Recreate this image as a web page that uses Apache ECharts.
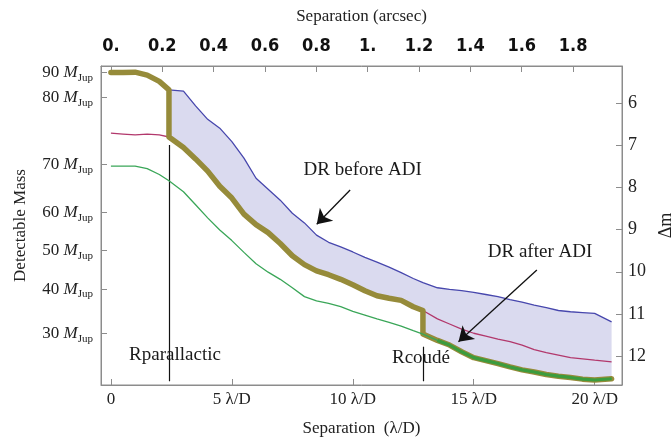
<!DOCTYPE html>
<html><head><meta charset="utf-8">
<script src="https://cdn.jsdelivr.net/npm/echarts@6/dist/echarts.min.js"></script>
<style>html,body{margin:0;padding:0;background:#fff}#c{width:672px;height:443px}</style>
</head><body><div id="c"></div>
<script>
// separation in lambda/D
const sep = [0,0.5,1,1.5,2,2.4,3,3.5,4,4.5,5,5.5,6,6.5,7,7.5,8,8.5,9,9.5,10,10.5,11,11.5,12,12.5,12.9,13.5,14,14.5,15,15.5,16,16.5,17,17.5,18,18.5,19,19.5,20,20.7];
// contrast (delta m) curves
const dmBeforeADI = [5.27,5.27,5.26,5.33,5.48,5.68,5.71,6.06,6.38,6.59,6.91,7.30,7.78,8.04,8.30,8.61,8.84,9.13,9.30,9.41,9.53,9.66,9.77,9.89,10.02,10.16,10.26,10.38,10.42,10.45,10.49,10.54,10.59,10.66,10.72,10.79,10.85,10.92,10.95,10.97,10.99,11.19];
const dmAfterADI = [6.71,6.73,6.75,6.73,6.75,6.80,7.05,7.32,7.61,7.97,8.25,8.63,8.88,9.07,9.33,9.62,9.83,9.98,10.07,10.18,10.31,10.45,10.57,10.63,10.68,10.83,10.92,11.12,11.24,11.36,11.46,11.53,11.60,11.66,11.74,11.85,11.92,11.98,12.04,12.07,12.10,12.14];
const dmAfterADICoude = [7.49,7.49,7.49,7.55,7.69,7.84,8.10,8.41,8.72,9.01,9.26,9.54,9.81,10.01,10.18,10.38,10.59,10.69,10.75,10.83,10.94,11.03,11.12,11.20,11.29,11.40,11.48,11.63,11.74,11.90,12.04,12.11,12.18,12.26,12.33,12.38,12.44,12.48,12.51,12.55,12.57,12.54];
const rParallactic = 2.4;
const rCoude = 12.9;
// axes ticks
const massTickLabels = [90,80,70,60,50,40,30];
const massTickDm = [5.264,5.867,7.449,8.589,9.492,10.411,11.463];
const dmTicks = [6,7,8,9,10,11,12];
const arcsecTicks = [0,0.2,0.4,0.6,0.8,1.0,1.2,1.4,1.6,1.8];
const arcsecTickLabels = ['0.','0.2','0.4','0.6','0.8','1.','1.2','1.4','1.6','1.8'];
const sepTicks = [0,5,10,15,20];
const sepTickLabels = ['0','5 \u03bb/D','10 \u03bb/D','15 \u03bb/D','20 \u03bb/D'];
const arcsecPerLambdaD = 0.0942;
const xRange = [-0.41, 21.13];
const dmRange = [5.114, 12.689];
// annotations (data units)
const annotations = [[10.41,7.58,'DR before ADI'],[17.74,9.54,'DR after ADI'],[2.65,11.98,'Rparallactic'],[12.82,12.06,'Rcoud\u00e9']];
const arrows = [[[9.89,8.06],[8.51,8.87]],[[17.61,9.96],[14.37,11.66]]];
const radiusMarkers = [[[rParallactic,6.99],[rParallactic,12.6]],[[rCoude,11.78],[rCoude,12.6]]];

const serif = "'Liberation Serif','DejaVu Serif',serif";
const txt = '#222';
const frame = '#8c8c8c';

const iPar = sep.indexOf(rParallactic);
const iCou = sep.indexOf(rCoude);
const pts = arr => sep.map((x,i)=>[x,arr[i]]);

// combined detection limit (thick)
const thick = [];
sep.forEach((x,i)=>{ if (i<=iPar) thick.push([x,dmBeforeADI[i]]); });
sep.forEach((x,i)=>{ if (i>=iPar && i<=iCou) thick.push([x,dmAfterADI[i]]); });
sep.forEach((x,i)=>{ if (i>=iCou) thick.push([x,dmAfterADICoude[i]]); });
const upper = pts(dmBeforeADI).slice(iPar);
const lower = thick.slice(iPar+1);

const nearest = (arr,v)=>{let k=0,b=1e9;arr.forEach((t,i)=>{if(Math.abs(t-v)<b){b=Math.abs(t-v);k=i;}});return k;};
const axisLine = {show:true, onZero:false, lineStyle:{color:frame}};

const chart = echarts.init(document.getElementById('c'), null, {renderer:'canvas'});
chart.setOption({
  animation:false,
  backgroundColor:'#fff',
  grid:{left:101, right:50, top:66, bottom:58, show:true, borderColor:frame, borderWidth:1, backgroundColor:'transparent', outerBoundsMode:'none', containLabel:false},
  xAxis:[{
    type:'value', position:'bottom', min:xRange[0], max:xRange[1],
    name:'Separation  (\u03bb/D)', nameLocation:'middle', nameGap:35,
    nameTextStyle:{fontFamily:serif, fontSize:17, color:txt},
    axisLine:axisLine, splitLine:{show:false},
    axisTick:{show:true, inside:true, length:6, customValues:sepTicks, lineStyle:{color:frame}},
    axisLabel:{customValues:sepTicks, margin:6, fontFamily:serif, fontSize:17, color:txt,
      formatter:v=>sepTickLabels[nearest(sepTicks,v)]}
  },{
    type:'value', position:'top', min:xRange[0]*arcsecPerLambdaD, max:xRange[1]*arcsecPerLambdaD,
    name:'Separation (arcsec)', nameLocation:'middle', nameGap:41,
    nameTextStyle:{fontFamily:serif, fontSize:17, color:txt},
    axisLine:axisLine, splitLine:{show:false},
    axisTick:{show:true, inside:true, length:6, customValues:arcsecTicks, lineStyle:{color:frame}},
    axisLabel:{customValues:arcsecTicks, margin:11, fontFamily:"'Liberation Sans Narrow','DejaVu Sans Condensed','Liberation Sans',sans-serif", fontWeight:'bold', fontSize:18, color:'#111',
      formatter:v=>arcsecTickLabels[nearest(arcsecTicks,v)]}
  }],
  yAxis:[{
    type:'value', position:'left', inverse:true, min:dmRange[0], max:dmRange[1],
    name:'Detectable Mass', nameLocation:'middle', nameGap:72, nameRotate:90,
    nameTextStyle:{fontFamily:serif, fontSize:17, color:txt},
    axisLine:axisLine, splitLine:{show:false},
    axisTick:{show:true, inside:true, length:6, customValues:massTickDm, lineStyle:{color:frame}},
    axisLabel:{customValues:massTickDm, margin:8, color:txt,
      formatter:v=>'{n|'+massTickLabels[nearest(massTickDm,v)]+' }{i|M}{s|Jup}',
      rich:{
        n:{fontFamily:serif, fontSize:17, color:txt, lineHeight:22},
        i:{fontFamily:serif, fontSize:17, fontStyle:'italic', color:txt, lineHeight:22},
        s:{fontFamily:serif, fontSize:11, color:txt, lineHeight:12, verticalAlign:'bottom'}
      }}
  },{
    type:'value', position:'right', inverse:true, min:dmRange[0], max:dmRange[1],
    name:'\u0394m', nameLocation:'middle', nameGap:33, nameRotate:90,
    nameTextStyle:{fontFamily:serif, fontSize:18, color:txt},
    axisLine:axisLine, splitLine:{show:false},
    axisTick:{show:true, inside:true, length:6, customValues:dmTicks, lineStyle:{color:frame}},
    axisLabel:{customValues:dmTicks, margin:6, fontFamily:serif, fontSize:18, color:txt}
  }],
  series:[
    {type:'custom', name:'gain', xAxisIndex:0, yAxisIndex:1, z:1, silent:true,
      data:[[rParallactic, dmBeforeADI[iPar]]],
      renderItem:(params, api)=>{
        const poly = upper.map(p=>api.coord(p)).concat(lower.slice().reverse().map(p=>api.coord(p)));
        return {type:'polygon', shape:{points:poly}, style:{fill:'#dadaef', stroke:null}};
      }},
    {type:'line', name:'after ADI', xAxisIndex:0, yAxisIndex:1, z:2, data:pts(dmAfterADI), showSymbol:false, silent:true,
      lineStyle:{color:'#b2386c', width:1.3}},
    {type:'line', name:'before ADI', xAxisIndex:0, yAxisIndex:1, z:3, data:upper, showSymbol:false, silent:true,
      lineStyle:{color:'#4747ad', width:1.3}},
    {type:'line', name:'limit', xAxisIndex:0, yAxisIndex:1, z:4, data:thick, showSymbol:false, silent:true,
      lineStyle:{color:'#968b3a', width:5.5, join:'round', cap:'round'}},
    {type:'line', name:'after ADI + coude', xAxisIndex:0, yAxisIndex:1, z:5, data:pts(dmAfterADICoude), showSymbol:false, silent:true,
      lineStyle:{color:'#3aa658', width:1.3}},
    {type:'line', name:'coude limit', xAxisIndex:0, yAxisIndex:1, z:6, data:pts(dmAfterADICoude).slice(iCou+1), showSymbol:false, silent:true,
      lineStyle:{color:'#3b9c3e', width:3.2}},
    {type:'line', name:'marks', xAxisIndex:0, yAxisIndex:1, z:7, data:[], silent:true,
      markLine:{silent:true, symbol:['none','none'], label:{show:false}, animation:false,
        lineStyle:{color:'#111', width:1.2, type:'solid'},
        data:radiusMarkers.map(m=>[{coord:m[0]},{coord:m[1]}])}},
    {type:'line', name:'arrows', xAxisIndex:0, yAxisIndex:1, z:8, data:[], silent:true,
      markLine:{silent:true, symbol:['none','arrow'], symbolSize:14, label:{show:false}, animation:false,
        lineStyle:{color:'#111', width:1.3, type:'solid'},
        data:arrows.map(a=>[{coord:a[0]},{coord:a[1]}])}},
    {type:'scatter', name:'labels', xAxisIndex:0, yAxisIndex:1, z:9, silent:true, symbolSize:0,
      itemStyle:{color:'#000', opacity:1},
      data:annotations,
      label:{show:true, position:'inside', formatter:p=>p.value[2], fontFamily:serif, fontSize:19, color:'#1a1a1a', opacity:1, textBorderWidth:0}}
  ]
});
</script></body></html>
